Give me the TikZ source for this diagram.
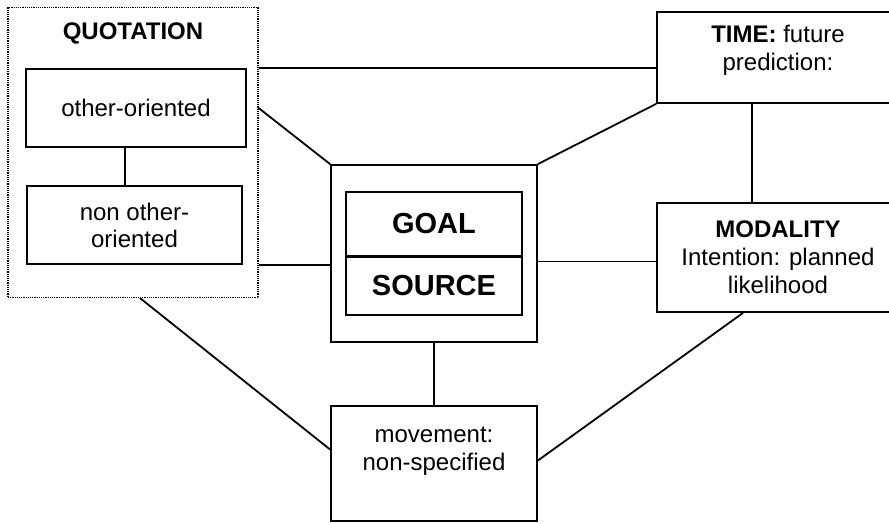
\documentclass[tikz,border=0pt]{standalone}
\usepackage{fontspec}
\setmainfont{Liberation Sans}
\tikzset{
  box/.style={draw, line width=1.8pt, rectangle, inner sep=0pt, align=center},
  txt/.style={font=\fontsize{24}{28}\selectfont, align=center},
  link/.style={line width=1.8pt},
}
\begin{document}
\begin{tikzpicture}[x=1pt, y=-1pt]
  \useasboundingbox (0,0) rectangle (889,523);
  \clip (0,0) rectangle (889,523);
  % quotation group
  \node[draw, densely dotted, line width=1.2pt, minimum width=250pt, minimum height=290pt] (quote) at (133,152.5) {};
  \node[txt, font=\fontsize{24}{28}\selectfont\bfseries] (qtitle) at (133,33) {QUOTATION};
  \node[box, txt, minimum width=220pt, minimum height=78pt] (other) at (136,108) {other-oriented};
  \node[box, txt, minimum width=215pt, minimum height=78pt, font=\fontsize{24}{27}\selectfont] (non) at (134.5,225) {non other-\\oriented};
  % goal / source
  \node[box, minimum width=206pt, minimum height=177pt] (outer) at (434,253.5) {};
  \node[box, txt, minimum width=176pt, minimum height=64pt, font=\fontsize{29}{30}\selectfont\bfseries] (goal) at (434,224) {GOAL};
  \node[box, txt, minimum width=176pt, minimum height=59pt, font=\fontsize{29}{30}\selectfont\bfseries] (source) at (434,285.5) {SOURCE};
  \draw[line width=3pt] (goal.south west) -- (goal.south east);
  % right side
  \node[box, txt, minimum width=242pt, minimum height=91pt, text depth=19pt] (time) at (778,57.5) {\textbf{TIME:} future\\prediction:};
  \node[box, txt, minimum width=242pt, minimum height=109pt] (modal) at (778,257.5) {\textbf{MODALITY}\\Intention: planned\\likelihood};
  % bottom
  \node[box, txt, minimum width=206pt, minimum height=115pt, text depth=30pt] (move) at (434,463.5) {movement:\\non-specified};
  % connectors
  \draw[link] ([xshift=-11pt]other.south) -- ([xshift=-9.5pt]non.north);
  \draw[link] (quote.east |- other.north) -- (time.west |- other.north);
  \draw[link] (quote.east |- other.center) -- (outer.north west);
  \draw[link] (quote.east |- non.south) -- (outer.west |- non.south);
  \draw[link] (outer.north east) -- (time.south west);
  \draw[link] ([xshift=-26pt]time.south) -- ([xshift=-26pt]modal.north);
  \draw[link] ([yshift=-4pt]outer.east |- modal.west) -- ([yshift=-4pt]modal.west);
  \draw[link] (outer.south) -- (move.north);
  \draw[link] ([xshift=7pt]quote.south) -- ([yshift=14pt]move.west);
  \draw[link] ([xshift=-35pt]modal.south) -- ([yshift=3pt]move.east);
\end{tikzpicture}
\end{document}
